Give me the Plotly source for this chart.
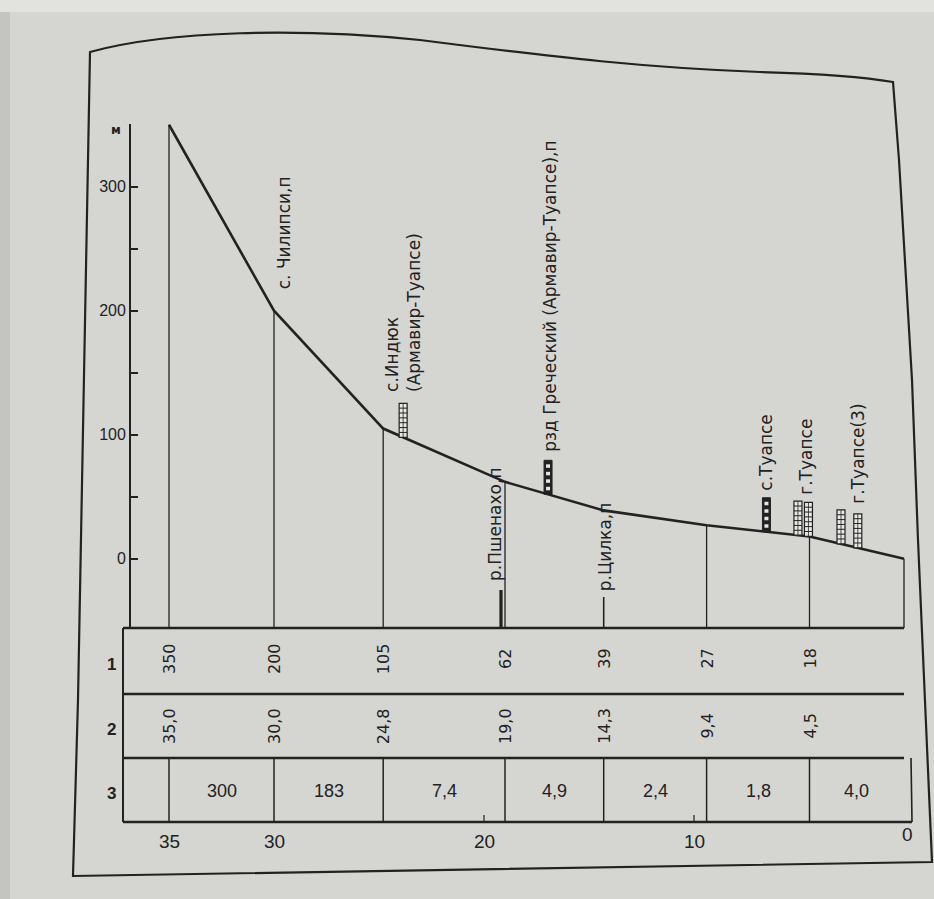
import numpy as np
import plotly.graph_objects as go

# ---- river profile data -------------------------------------------------
distance_km = [35.0, 30.0, 24.8, 19.0, 14.3, 9.4, 4.5, 0.0]
elevation_m = [350, 200, 105, 62, 39, 27, 18, 0]

# table rows: 1 - elevation, m; 2 - distance from mouth, km; 3 - slope
elevation_labels = ["350", "200", "105", "62", "39", "27", "18"]
distance_labels = ["35,0", "30,0", "24,8", "19,0", "14,3", "9,4", "4,5"]
slope_labels = ["300", "183", "7,4", "4,9", "2,4", "1,8", "4,0"]

# gauge verticals drawn from the profile down to the base line
gauge_km = [35.0, 30.0, 24.8, 19.0, 9.4, 4.5, 0.0]

# tributaries (short bars at the base)
tributary_km = [19.0, 14.3]
tributary_names = ["р.Пшенахо,п", "р.Цилка,п"]

# settlement symbols along the river
settlement_km = [23.85, 16.95, 6.55, 5.05, 4.55, 3.0, 2.2]
settlement_dark = [False, True, True, False, False, False, False]

# settlement / station captions
label_km = [30.0, 23.85, 16.95, 6.55, 4.55, 2.2]
label_text = ["с. Чилипси,п", "с.Индюк<br>(Армавир-Туапсе)",
              "рзд Греческий (Армавир-Туапсе),п", "с.Туапсе", "г.Туапсе",
              "г.Туапсе(3)"]

y_tick_vals = [0, 50, 100, 150, 200, 250, 300, 350]
y_tick_text = ["0", "", "100", "", "200", "", "300", ""]
km_tick_vals = [35, 30, 20, 10, 0]

# ---- page geometry (pixels) --------------------------------------------
W, H = 934, 899
X0_PX, KM_PX = 904.0, 21.0          # x pixel of km 0, pixels per km
Y0_PX, M_PX = 558.75, 1.24          # y pixel of 0 m, pixels per metre
BASE_PX, TOP_PX, AXIS_PX = 628, 124, 130
ROW_Y = [628, 694, 758, 822]
TABLE_LEFT = 123

INK = "#222222"
PAPER = "#d5d5d2"
NARROW = "Liberation Sans Narrow, Arial Narrow, Liberation Sans, sans-serif"
WIDE = "DejaVu Sans, Liberation Sans, sans-serif"


def km_at(px):
    return (X0_PX - px) / KM_PX


def px_of_km(d):
    return X0_PX - KM_PX * d


def h_at(py):
    return (Y0_PX - py) / M_PX


def pap_y(py):
    return 1 - py / H


def pap_x(px):
    return px / W


def elev(d):
    return float(np.interp(d, distance_km[::-1], elevation_m[::-1]))


def note(**kw):
    base = dict(showarrow=False, xanchor="center", yanchor="middle")
    base.update(kw)
    return base


fig = go.Figure()

# longitudinal profile
fig.add_trace(go.Scatter(x=distance_km, y=elevation_m, mode="lines",
                         line=dict(color=INK, width=2.6), hoverinfo="skip"))

# gauge verticals
vx, vy = [], []
base_h = h_at(BASE_PX)
for d in gauge_km:
    vx += [d, d, None]
    vy += [elev(d), base_h, None]
fig.add_trace(go.Scatter(x=vx, y=vy, mode="lines",
                         line=dict(color=INK, width=1.3), hoverinfo="skip"))

shapes = []
annotations = []

# tributary bars and names
trib_len = [38, 31]
trib_w = [3.2, 1.6]
trib_dx = [-4, 0]
trib_text_dx = [-10, 1]
trib_text_lift = [45, 35]
for d, name, ln, lw, dx, tdx, lift in zip(tributary_km, tributary_names, trib_len,
                                          trib_w, trib_dx, trib_text_dx, trib_text_lift):
    shapes.append(dict(type="line", xref="x", yref="y", xsizemode="pixel",
                       xanchor=d, x0=dx, x1=dx, y0=base_h, y1=h_at(BASE_PX - ln),
                       line=dict(color=INK, width=lw)))
    annotations.append(note(x=d, y=h_at(BASE_PX - lift), xref="x", yref="y",
                            text=name, textangle=-90, yanchor="bottom", xshift=tdx,
                            font=dict(family=WIDE, size=17, color=INK)))

# settlement symbols: small blocks standing on the profile
SYM_H, SYM_HW = 34, 4
for d, dark in zip(settlement_km, settlement_dark):
    h0 = elev(d)
    common = dict(xref="x", yref="y", xsizemode="pixel", ysizemode="pixel",
                  xanchor=d, yanchor=h0)
    if dark:
        shapes.append(dict(type="rect", x0=-SYM_HW, x1=SYM_HW, y0=0, y1=SYM_H,
                           fillcolor=INK, line=dict(color=INK, width=1), **common))
        for k in range(4):
            b = 4 + k * 7.5
            shapes.append(dict(type="rect", x0=-2, x1=2, y0=b, y1=b + 3.5,
                               fillcolor="#e6e6e3", line=dict(width=0), **common))
    else:
        shapes.append(dict(type="rect", x0=-SYM_HW, x1=SYM_HW, y0=0, y1=SYM_H,
                           fillcolor="#e8e8e5", line=dict(color=INK, width=1.2), **common))
        for k in range(1, 7):
            b = k * SYM_H / 7
            shapes.append(dict(type="line", x0=-SYM_HW, x1=SYM_HW, y0=b, y1=b,
                               line=dict(color=INK, width=1), **common))
        shapes.append(dict(type="line", x0=0, x1=0, y0=0, y1=SYM_H,
                           line=dict(color=INK, width=0.8), **common))

# captions above the profile
label_dx = [10, 0, 2, 0, -2, 0]
label_lift = [19, 43, 40, 39, 40, 42]
for d, txt, dx, lift in zip(label_km, label_text, label_dx, label_lift):
    annotations.append(note(x=d, y=elev(d), xref="x", yref="y", text=txt,
                            textangle=-90, align="left", yanchor="bottom",
                            xshift=dx, yshift=lift,
                            font=dict(family=WIDE, size=17, color=INK)))

# axis unit
annotations.append(note(x=pap_x(116), y=pap_y(130), xref="paper", yref="paper",
                        text="м", font=dict(family=WIDE, size=12, color=INK, weight="bold")))

# ---- table under the profile -------------------------------------------
right_px = px_of_km(0.0)
for i, py in enumerate(ROW_Y):
    x1 = right_px + (8 if i == 3 else 0)
    shapes.append(dict(type="line", xref="paper", yref="paper",
                       x0=pap_x(TABLE_LEFT), x1=pap_x(x1), y0=pap_y(py), y1=pap_y(py),
                       line=dict(color=INK, width=2.3)))
shapes.append(dict(type="line", xref="paper", yref="paper",
                   x0=pap_x(TABLE_LEFT), x1=pap_x(TABLE_LEFT),
                   y0=pap_y(ROW_Y[0]), y1=pap_y(ROW_Y[3]), line=dict(color=INK, width=2)))
shapes.append(dict(type="line", xref="paper", yref="paper",
                   x0=pap_x(right_px + 7), x1=pap_x(right_px + 8),
                   y0=pap_y(ROW_Y[2]), y1=pap_y(ROW_Y[3]), line=dict(color=INK, width=1.6)))
for d in distance_km[:-1]:
    shapes.append(dict(type="line", xref="x", yref="paper", x0=d, x1=d,
                       y0=pap_y(ROW_Y[2]), y1=pap_y(ROW_Y[3]),
                       line=dict(color=INK, width=1.5)))
for d in [20, 10]:
    shapes.append(dict(type="line", xref="x", yref="paper", x0=d, x1=d,
                       y0=pap_y(ROW_Y[3]), y1=pap_y(ROW_Y[3] - 7),
                       line=dict(color=INK, width=1.2)))

row_mid = [(ROW_Y[i] + ROW_Y[i + 1]) / 2 for i in range(3)]
for d, a, b in zip(distance_km, elevation_labels, distance_labels):
    annotations.append(note(x=d, y=pap_y(row_mid[0] - 2), xref="x", yref="paper",
                            text=a, textangle=-90,
                            font=dict(family=WIDE, size=16, color=INK)))
    annotations.append(note(x=d, y=pap_y(row_mid[1]), xref="x", yref="paper",
                            text=b, textangle=-90,
                            font=dict(family=WIDE, size=16, color=INK)))
for i, s in enumerate(slope_labels):
    mid = (distance_km[i] + distance_km[i + 1]) / 2
    annotations.append(note(x=mid, y=pap_y(row_mid[2] + 1), xref="x", yref="paper",
                            text=s, font=dict(family=NARROW, size=18, color=INK)))
for i, m in enumerate(row_mid):
    annotations.append(note(x=pap_x(111), y=pap_y(m + 3), xref="paper", yref="paper",
                            text=str(i + 1),
                            font=dict(family=NARROW, size=17, color=INK, weight="bold")))

# distance scale under the table
for k in km_tick_vals:
    annotations.append(note(x=k, y=pap_y(841 if k else 834), xref="x", yref="paper",
                            text=str(k), xshift=(3 if k == 0 else 0),
                            font=dict(family=NARROW, size=19, color=INK)))

# ---- outer frame of the figure ----------------------------------------
frame_path = (
    f"M {pap_x(90):.5f},{pap_y(52):.5f} "
    f"C {pap_x(170):.5f},{pap_y(30):.5f} {pap_x(300):.5f},{pap_y(28):.5f} "
    f"{pap_x(420):.5f},{pap_y(40):.5f} "
    f"C {pap_x(560):.5f},{pap_y(58):.5f} {pap_x(650):.5f},{pap_y(68):.5f} "
    f"{pap_x(760):.5f},{pap_y(72):.5f} "
    f"C {pap_x(830):.5f},{pap_y(74):.5f} {pap_x(870):.5f},{pap_y(78):.5f} "
    f"{pap_x(893):.5f},{pap_y(82):.5f} "
    f"L {pap_x(899):.5f},{pap_y(160):.5f} L {pap_x(912):.5f},{pap_y(380):.5f} "
    f"L {pap_x(918):.5f},{pap_y(540):.5f} L {pap_x(932):.5f},{pap_y(862):.5f} "
    f"L {pap_x(73):.5f},{pap_y(876):.5f} L {pap_x(78):.5f},{pap_y(700):.5f} Z"
)
shapes.append(dict(type="path", xref="paper", yref="paper", path=frame_path,
                   line=dict(color=INK, width=2.2), layer="below"))

# darker page edge on the left, lighter strip at the top
shapes.append(dict(type="rect", xref="paper", yref="paper", x0=0, x1=pap_x(10),
                   y0=0, y1=1, fillcolor="#c4c4c1", line=dict(width=0), layer="below"))
shapes.append(dict(type="rect", xref="paper", yref="paper", x0=0, x1=1,
                   y0=pap_y(12), y1=1, fillcolor="#e2e2df", line=dict(width=0), layer="below"))

fig.update_layout(
    width=W, height=H,
    margin=dict(l=0, r=0, t=0, b=0),
    paper_bgcolor=PAPER, plot_bgcolor="rgba(0,0,0,0)",
    showlegend=False,
    xaxis=dict(range=[km_at(0), km_at(W)], domain=[0, 1], visible=False),
    yaxis=dict(domain=[pap_y(BASE_PX), pap_y(TOP_PX)],
               range=[h_at(BASE_PX), h_at(TOP_PX)],
               anchor="free", position=pap_x(AXIS_PX), side="left",
               showline=True, linecolor=INK, linewidth=1.8,
               ticks="inside", ticklen=7, tickwidth=1.6, tickcolor=INK,
               tickvals=y_tick_vals, ticktext=y_tick_text,
               tickfont=dict(family=NARROW, size=16, color=INK),
               showgrid=False, zeroline=False),
    shapes=shapes,
    annotations=annotations,
)

fig.write_html("out.html")
